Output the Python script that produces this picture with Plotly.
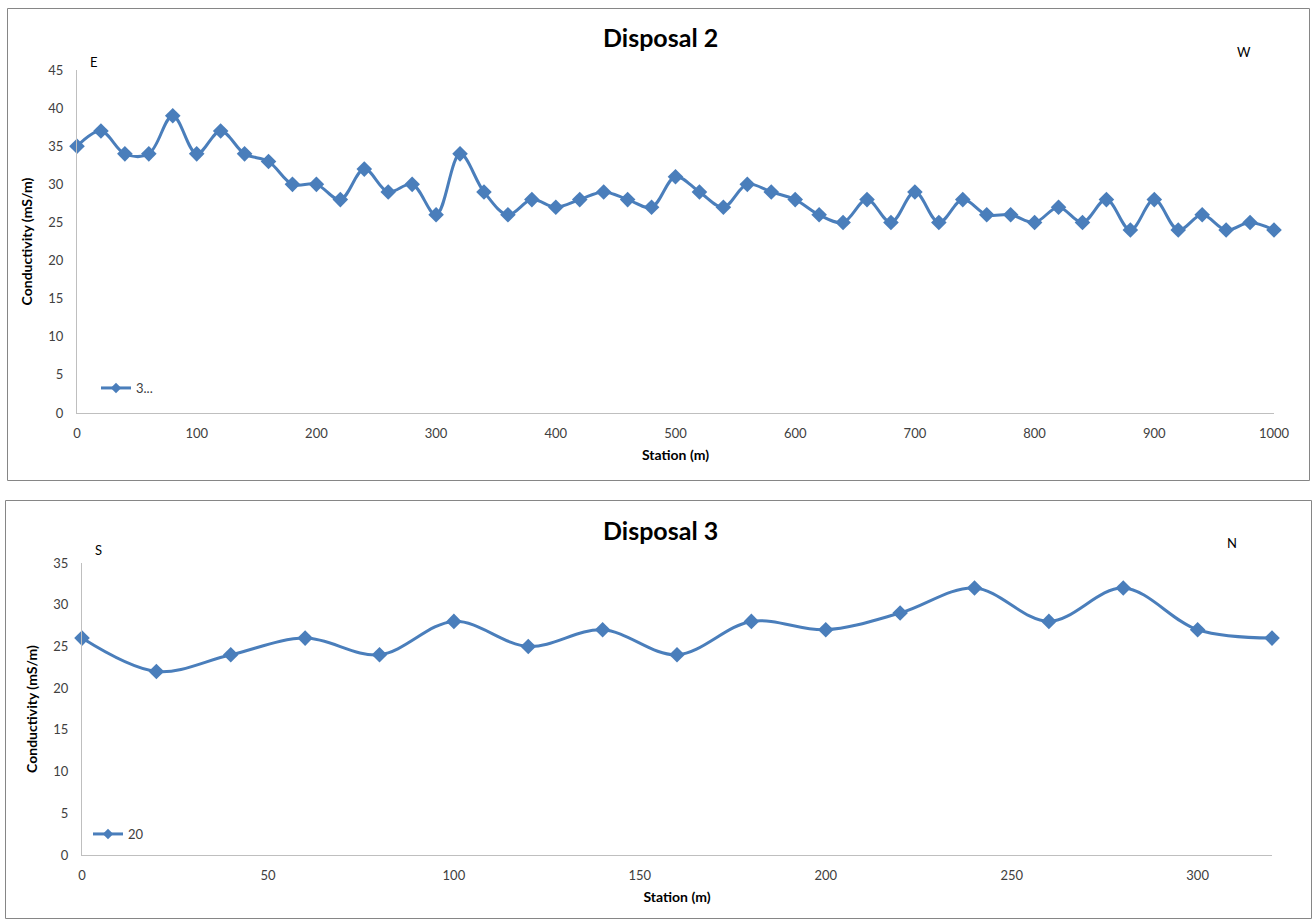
import plotly.graph_objects as go

# Disposal 2 traverse (E -> W)
stations_d2 = list(range(0, 1001, 20))
cond_d2 = [35, 37, 34, 34, 39, 34, 37, 34, 33, 30, 30, 28, 32, 29, 30, 26, 34, 29, 26, 28,
           27, 28, 29, 28, 27, 31, 29, 27, 30, 29, 28, 26, 25, 28, 25, 29, 25, 28, 26, 26,
           25, 27, 25, 28, 24, 28, 24, 26, 24, 25, 24]

# Disposal 3 traverse (S -> N)
stations_d3 = list(range(0, 321, 20))
cond_d3 = [26, 22, 24, 26, 24, 28, 25, 27, 24, 28, 27, 29, 32, 28, 32, 27, 26]

W, H = 1316, 919
BLUE = "#4a7ebb"
FONT = "Lato"
TXT = "#404040"


def px(x):
    return x / W


def py(y):
    return 1 - y / H


fig = go.Figure()

line_style = dict(color=BLUE, width=3, shape="spline", smoothing=1)

fig.add_trace(go.Scatter(
    x=stations_d2, y=cond_d2, mode="lines+markers", name="3...",
    line=line_style, marker=dict(symbol="diamond", size=12, color=BLUE),
    xaxis="x", yaxis="y", showlegend=False, cliponaxis=False,
))
fig.add_trace(go.Scatter(
    x=stations_d3, y=cond_d3, mode="lines+markers", name="20",
    line=line_style, marker=dict(symbol="diamond", size=12, color=BLUE),
    xaxis="x2", yaxis="y2", showlegend=False, cliponaxis=False,
))

# Legend entries (smaller key marker)
fig.add_trace(go.Scatter(
    x=[None], y=[None], mode="lines+markers", name="3...",
    line=dict(color=BLUE, width=3), marker=dict(symbol="diamond", size=8, color=BLUE),
    xaxis="x", yaxis="y", legend="legend",
))
fig.add_trace(go.Scatter(
    x=[None], y=[None], mode="lines+markers", name="20",
    line=dict(color=BLUE, width=3), marker=dict(symbol="diamond", size=8, color=BLUE),
    xaxis="x2", yaxis="y2", legend="legend2",
))

axis_common = dict(
    showgrid=False, zeroline=False, showline=True, linecolor="#bfbfbf", linewidth=1,
    automargin=False,
    ticks="", tickfont=dict(family=FONT, size=13, color=TXT),
    title_font=dict(family=FONT, size=14, color="#000000"),
)

fig.update_layout(
    width=W, height=H,
    margin=dict(l=0, r=0, t=0, b=0, autoexpand=False),
    paper_bgcolor="white", plot_bgcolor="white",
    font=dict(family=FONT, color=TXT),
    xaxis=dict(axis_common, domain=[px(77), px(1274)], range=[0, 1000], dtick=100,
               anchor="y", ticklabelstandoff=8,
               title=dict(text="<b>Station (m)</b>", standoff=10)),
    yaxis=dict(axis_common, domain=[py(413), py(70)], range=[0, 45], dtick=5,
               anchor="x", ticklabelstandoff=10,
               title=dict(text="<b>Conductivity (mS/m)</b>", standoff=12)),
    xaxis2=dict(axis_common, domain=[px(82), px(1272)], range=[0, 320], dtick=50,
                anchor="y2", ticklabelstandoff=8,
                title=dict(text="<b>Station (m)</b>", standoff=10)),
    yaxis2=dict(axis_common, domain=[py(855), py(563)], range=[0, 35], dtick=5,
                anchor="x2", ticklabelstandoff=10,
                title=dict(text="<b>Conductivity (mS/m)</b>", standoff=12)),
    legend=dict(x=px(96), y=py(388), xanchor="left", yanchor="middle",
                bgcolor="rgba(0,0,0,0)", itemwidth=30,
                font=dict(family=FONT, size=13, color=TXT)),
    legend2=dict(x=px(88), y=py(834), xanchor="left", yanchor="middle",
                 bgcolor="rgba(0,0,0,0)", itemwidth=30,
                 font=dict(family=FONT, size=13, color=TXT)),
    showlegend=True,
)

# Chart frames
fig.add_shape(type="rect", xref="paper", yref="paper",
              x0=px(7.5), x1=px(1309.5), y0=py(480.5), y1=py(8.5),
              line=dict(color="#868686", width=1), layer="below")
fig.add_shape(type="rect", xref="paper", yref="paper",
              x0=px(5.5), x1=px(1311.5), y0=py(918.5), y1=py(500.5),
              line=dict(color="#868686", width=1), layer="below")

# Titles and direction labels
notes = [
    ("<b>Disposal 2</b>", 660, 37, 25, "#000000"),
    ("<b>Disposal 3</b>", 660, 530, 25, "#000000"),
    ("E", 94, 62, 13, "#000000"),
    ("W", 1244, 52, 13, "#000000"),
    ("S", 98, 550, 13, "#000000"),
    ("N", 1232, 543, 13, "#000000"),
]
for text, x, y, size, color in notes:
    fig.add_annotation(text=text, xref="paper", yref="paper", x=px(x), y=py(y),
                       xanchor="center", yanchor="middle", showarrow=False,
                       font=dict(family=FONT, size=size, color=color))

fig.write_html("out.html")
